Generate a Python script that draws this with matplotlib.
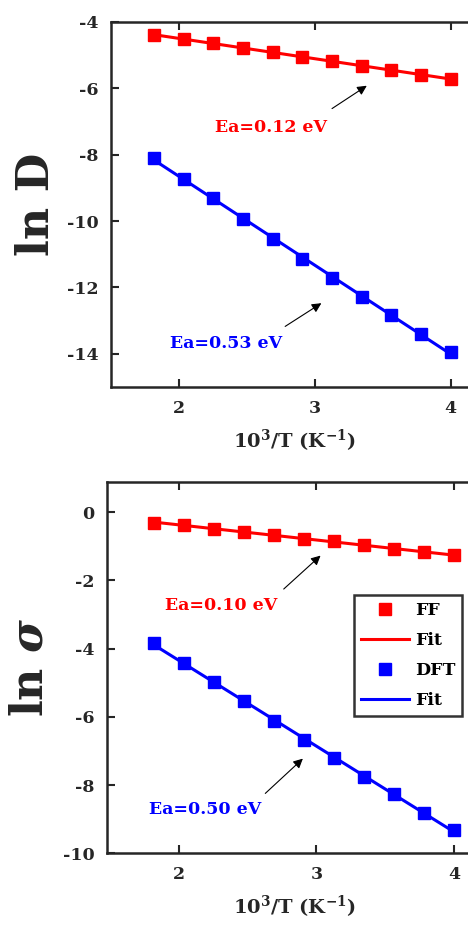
import matplotlib
matplotlib.use("Agg")
import matplotlib.pyplot as plt
import numpy as np

# 10^3/T values shared by all series
invT = [1.818, 2.036, 2.254, 2.473, 2.691, 2.909, 3.127, 3.345, 3.564, 3.782, 4.0]

# ln D
lnD_ff = [-4.40, -4.52, -4.65, -4.79, -4.92, -5.05, -5.18, -5.33, -5.46, -5.60, -5.72]
lnD_dft = [-8.11, -8.72, -9.32, -9.95, -10.55, -11.13, -11.71, -12.28, -12.83, -13.41, -13.94]

# ln sigma
lns_ff = [-0.31, -0.39, -0.49, -0.57, -0.68, -0.78, -0.86, -0.97, -1.07, -1.17, -1.27]
lns_dft = [-3.85, -4.42, -4.97, -5.55, -6.12, -6.68, -7.22, -7.75, -8.27, -8.81, -9.31]

ea_labels_D = ["Ea=0.12 eV", "Ea=0.53 eV"]
ea_labels_s = ["Ea=0.10 eV", "Ea=0.50 eV"]

RED = "#ff0000"
BLUE = "#0000ff"
TXT = "#262626"

plt.rcParams["font.family"] = ["DejaVu Serif"]
plt.rcParams["font.weight"] = "bold"
plt.rcParams["axes.unicode_minus"] = False
plt.rcParams["mathtext.fontset"] = "dejavuserif"

fig = plt.figure(figsize=(4.68, 9.27), dpi=100)
ax1 = fig.add_axes([0.237, 0.5825, 0.784, 0.394])
ax2 = fig.add_axes([0.2286, 0.0795, 0.800, 0.4005])


def draw(ax, ff, dft):
    x = np.array(invT)
    for y, c, name in [(ff, RED, "FF"), (dft, BLUE, "DFT")]:
        ax.plot(x, y, "s", color=c, markersize=8.5, label=name)
        p = np.polyfit(x, y, 1)
        ax.plot(x, np.polyval(p, x), "-", color=c, lw=2.2, label="Fit")
    ax.set_xticks([2, 3, 4])
    ax.tick_params(direction="in", length=6, width=1.5, top=True, right=True,
                   labelsize=12.5, colors=TXT, pad=9)
    for lab in ax.get_xticklabels() + ax.get_yticklabels():
        lab.set_fontweight("bold")
    for s in ax.spines.values():
        s.set_linewidth(1.8)
        s.set_color(TXT)
    ax.set_xlabel(r"10$^{\mathbf{3}}$/T (K$^{\mathbf{-1}}$)", fontsize=14,
                  fontweight="bold", color=TXT, labelpad=8)


def note(ax, text, c, txy, tail, head):
    ax.text(txy[0], txy[1], text, color=c, fontsize=12.5, fontweight="bold",
            ha="center", va="center")
    ax.annotate("", xy=head, xytext=tail,
                arrowprops=dict(arrowstyle="-|>", color="black", lw=0.8,
                                mutation_scale=14))


draw(ax1, lnD_ff, lnD_dft)
ax1.set_xlim(1.5, 4.2)
ax1.set_ylim(-15, -4)
ax1.set_yticks([-14, -12, -10, -8, -6, -4])
ax1.set_ylabel("ln D", fontsize=32, fontweight="bold", color=TXT)
ax1.yaxis.set_label_coords(-0.143, 0.5)
note(ax1, ea_labels_D[0], RED, (2.68, -7.17), (3.11, -6.66), (3.40, -5.88))
note(ax1, ea_labels_D[1], BLUE, (2.35, -13.68), (2.765, -13.22), (3.066, -12.43))

draw(ax2, lns_ff, lns_dft)
ax2.set_xlim(1.476, 4.2)
ax2.set_ylim(-10, 0.88)
ax2.set_yticks([-10, -8, -6, -4, -2, 0])
ax2.set_ylabel(r"ln $\sigma$", fontsize=32, fontweight="bold", color=TXT)
ax2.yaxis.set_label_coords(-0.148, 0.5)
note(ax2, ea_labels_s[0], RED, (2.305, -2.75), (2.747, -2.31), (3.045, -1.22))
note(ax2, ea_labels_s[1], BLUE, (2.19, -8.73), (2.613, -8.30), (2.916, -7.17))

leg = ax2.legend(loc="upper right", bbox_to_anchor=(462 / 468, 1 - 595 / 927),
                 bbox_transform=fig.transFigure, fontsize=12.5, frameon=True,
                 fancybox=False, handlelength=2.8, borderpad=0.4,
                 labelspacing=0.75, handletextpad=0.3, borderaxespad=0)
leg.get_frame().set_edgecolor("black")
leg.get_frame().set_linewidth(1.8)
for t in leg.get_texts():
    t.set_fontweight("bold")

fig.savefig("out.png", dpi=100)
